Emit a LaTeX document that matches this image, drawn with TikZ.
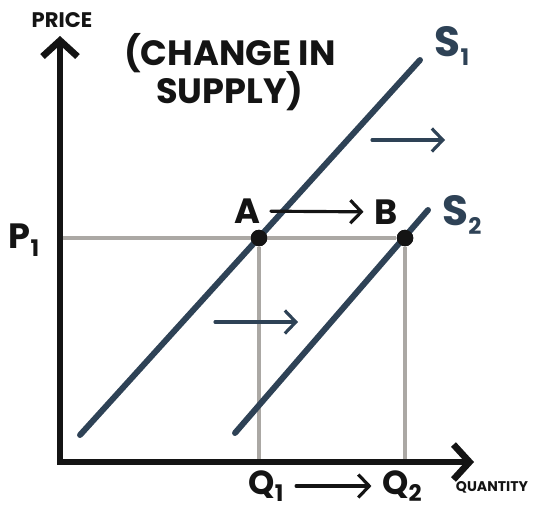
\documentclass[tikz,border=0pt]{standalone}
\usepackage{fontspec}
\setmainfont{Poppins}
\usetikzlibrary{arrows.meta,positioning}
\definecolor{Slate}{HTML}{2E4256}
\definecolor{Guide}{HTML}{ABA8A4}
\definecolor{Ink}{HTML}{141414}
\newcommand{\sub}[2]{#1\raisebox{-0.4ex}{\fontsize{13}{13}\selectfont #2}}

\begin{document}
\begin{tikzpicture}[x=0.02cm,y=-0.02cm,
  every node/.style={font=\bfseries\fontsize{20}{22}\selectfont,text=Ink,inner sep=0pt,align=center},
  axis/.style={line width=3.8pt,Ink,line join=miter,{Straight Barb[length=0.32cm,width=0.7cm]}-{Straight Barb[length=0.32cm,width=0.7cm]}},
  supply/.style={line width=3.4pt,Slate,line cap=round},
  guide/.style={line width=1.8pt,Guide},
  move/.style={line width=1.8pt,line cap=round,-{Straight Barb[length=0.22cm,width=0.46cm]}},
  dot/.style={circle,fill=Ink,minimum size=0.33cm}]
  \useasboundingbox (0,0) rectangle (543,508);
  % axes
  \coordinate (O) at (60,462);
  \coordinate (ytop) at (60,36);
  \coordinate (xend) at (474,462);
  \node[font=\bfseries\fontsize{12}{12}\selectfont] (price) at (62,20) {PRICE};
  \node[font=\bfseries\fontsize{8}{8}\selectfont] (qty) at (492,487) {QUANTITY};
  \node at (230,72) {(CHANGE IN\\[-2pt]SUPPLY)};
  % equilibrium points
  \node[dot] (A) at (259,238) {};
  \node[dot] (B) at (405,238) {};
  \draw[guide] (O|-A) -- (B);
  \draw[guide] (A) -- (A|-O);
  \draw[guide] (B) -- (B|-O);
  \draw[axis] (ytop) -- (O) -- (xend);
  % supply curves
  \coordinate (s1lo) at (80,435);
  \coordinate (s1hi) at (420,60);
  \coordinate (s2lo) at (235,433);
  \coordinate (s2hi) at (428,210);
  \draw[supply] (s1lo) -- (s1hi);
  \draw[supply] (s2lo) -- (s2hi);
  \node[dot] at (A) {};
  \node[dot] at (B) {};
  \node[text=Slate,font=\bfseries\fontsize{24}{24}\selectfont] (S1) at (452,46) {\sub{S}{1}};
  \node[text=Slate,font=\bfseries\fontsize{24}{24}\selectfont] (S2) at (462,215) {\sub{S}{2}};
  % labels
  \node (labA) at (247,211) {A};
  \node (labB) at (386,212) {B};
  \node (P1) at (24,240) {\sub{P}{1}};
  \node[font=\bfseries\fontsize{19}{19}\selectfont] (Q1) at (266,486) {\sub{Q}{1}};
  \node[font=\bfseries\fontsize{19}{19}\selectfont] (Q2) at (402,486) {\sub{Q}{2}};
  \draw[move,Ink,shorten <=6pt,shorten >=6pt] (labA) -- (labB);
  \draw[move,Ink,shorten <=7pt,shorten >=6pt] (Q1) -- (Q2);
  % shift arrows
  \coordinate (u0) at (372,140);
  \coordinate (u1) at (445,140);
  \coordinate (d0) at (215,322);
  \coordinate (d1) at (298,322);
  \draw[move,Slate] (u0) -- (u1);
  \draw[move,Slate] (d0) -- (d1);
\end{tikzpicture}
\end{document}
